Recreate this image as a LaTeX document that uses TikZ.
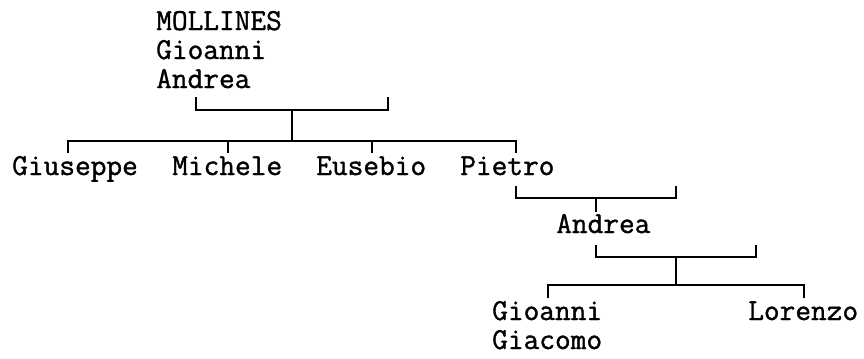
\documentclass[tikz,border=0pt]{standalone}
\usepackage{fontspec}
\newfontfamily\treefont[UprightFeatures={FakeBold=1.2}]{Latin Modern Mono}
\begin{document}
\begin{tikzpicture}[
  x=0.75pt, y=-0.75pt,
  person/.style={anchor=base west, inner sep=0pt, align=left,
    font=\treefont\fontsize{22.86}{21.75}\selectfont},
  link/.style={line width=1.5pt}
]
\useasboundingbox (0,0) rectangle (864,358);
\node[person] (root) at (156,88) {MOLLINES\\Gioanni\\Andrea};
\node[person] (giuseppe) at (12,175) {Giuseppe};
\node[person] (michele) at (172,175) {Michele};
\node[person] (eusebio) at (316,175) {Eusebio};
\node[person] (pietro) at (460,175) {Pietro};
\node[person] (andrea) at (556,233) {Andrea};
\node[person] (gioanni) at (492,349) {Gioanni\\Giacomo};
\node[person] (lorenzo) at (748,320) {Lorenzo};
\coordinate (rootL) at (196,97);
\coordinate (rootR) at (388,97);
\coordinate (rootJ) at (292,110);
\coordinate (sibJ) at (292,141);
\coordinate (tGiu) at (68,153);
\coordinate (tMic) at (228,153);
\coordinate (tEus) at (372,153);
\coordinate (tPie) at (516,153);
\coordinate (pieL) at (516,186);
\coordinate (pieR) at (676,186);
\coordinate (pieJ) at (596,198);
\coordinate (pieD) at (596,212);
\coordinate (andL) at (596,245);
\coordinate (andR) at (756,245);
\coordinate (andJ) at (676,257);
\coordinate (kidJ) at (676,285);
\coordinate (tGio) at (548,298);
\coordinate (tLor) at (804,298);
\draw[link] (rootL) |- (rootJ) -| (rootR);
\draw[link] (rootJ) -- (sibJ);
\draw[link] (tGiu) |- (sibJ) -| (tPie);
\draw[link] (tMic) -- (tMic |- sibJ);
\draw[link] (tEus) -- (tEus |- sibJ);
\draw[link] (pieL) |- (pieJ) -| (pieR);
\draw[link] (pieJ) -- (pieD);
\draw[link] (andL) |- (andJ) -| (andR);
\draw[link] (andJ) -- (kidJ);
\draw[link] (tGio) |- (kidJ) -| (tLor);
\end{tikzpicture}
\end{document}
